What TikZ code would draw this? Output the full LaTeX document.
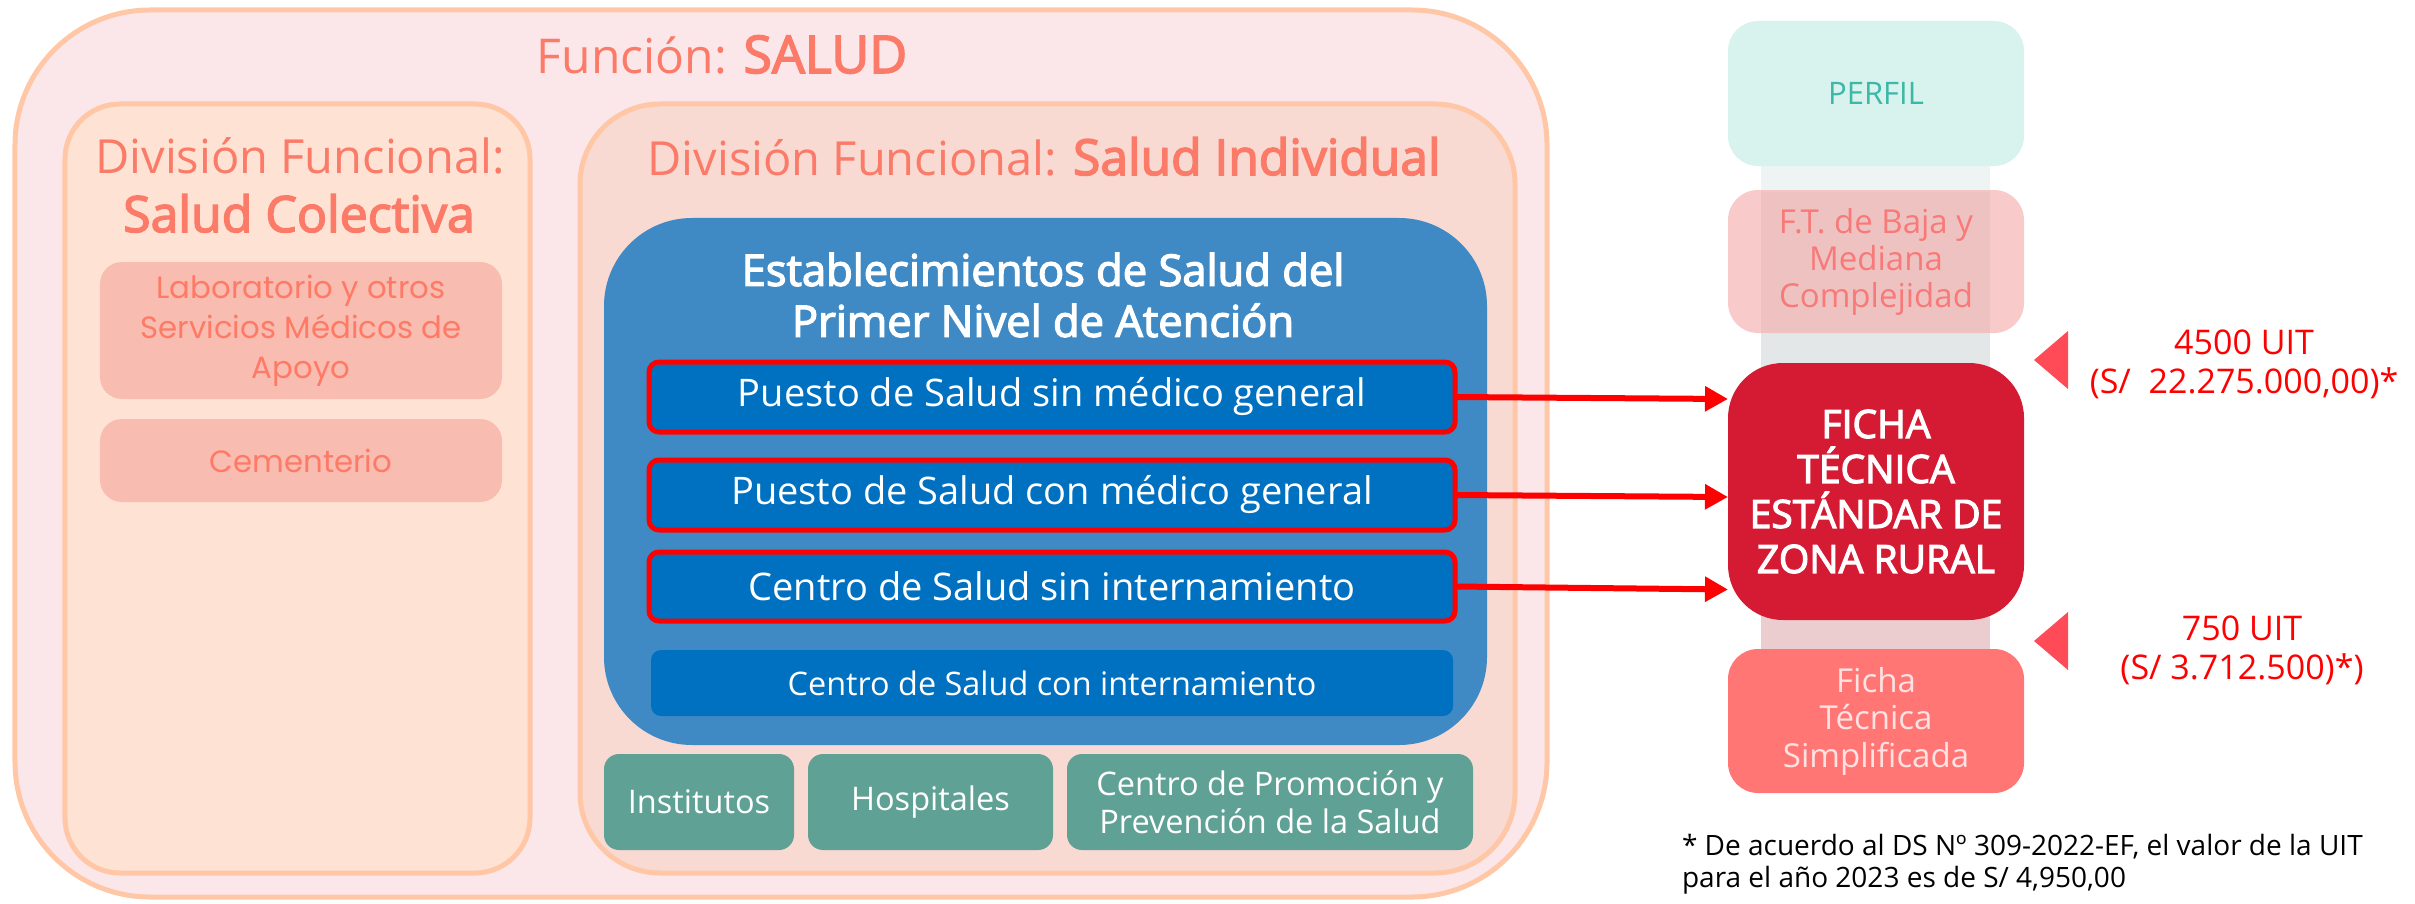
\documentclass[tikz,border=0pt]{standalone}
\usepackage{fontspec}
\setmainfont{Open Sans}
\newfontfamily\popfont{Poppins}
\newfontfamily\sbf{Open Sans}[FakeBold=3]
\usetikzlibrary{arrows.meta}
\definecolor{outerfill}{HTML}{FBE7E9}
\definecolor{peach}{HTML}{FFC7A5}
\definecolor{leftfill}{HTML}{FEE2D3}
\definecolor{rightfill}{HTML}{F8DAD2}
\definecolor{salmon}{HTML}{FB7A68}
\definecolor{labfill}{HTML}{F9BCB0}
\definecolor{labtext}{HTML}{FF7A66}
\definecolor{bluebig}{HTML}{3F8AC4}
\definecolor{bluebox}{HTML}{0070C0}
\definecolor{redline}{HTML}{FF0000}
\definecolor{greenbox}{HTML}{5FA195}
\definecolor{perfilfill}{HTML}{D8F2EE}
\definecolor{perfiltext}{HTML}{3CB8A7}
\definecolor{ftfill}{HTML}{F5B0B0}
\definecolor{fttext}{HTML}{F77A78}
\definecolor{fichafill}{HTML}{D51B33}
\definecolor{simpfill}{HTML}{FF7674}
\definecolor{simptext}{HTML}{FFE2E1}
\definecolor{trifill}{HTML}{FF4A57}
\definecolor{bandA}{HTML}{EEF4F3}
\definecolor{bandB}{HTML}{E4E7E7}
\definecolor{bandC}{HTML}{EBCDD0}
\newcommand{\fsz}[2]{\fontsize{#1bp}{#2bp}\selectfont}
\begin{document}
\begin{tikzpicture}[x=1bp,y=-1bp,
  box/.style={rectangle, inner sep=0pt, outer sep=0pt, align=center},
  divbox/.style={box, draw=peach, line width=5bp},
  estab/.style={box, fill=bluebox, rounded corners=10bp, minimum width=806bp, minimum height=70bp, text=white, font=\fsz{38}{44}},
  sel/.style={draw=redline, line width=5bp},
  green/.style={box, fill=greenbox, rounded corners=15bp, minimum height=96bp, text=white, font=\fsz{32.5}{38}},
  colbox/.style={box, rounded corners=30bp, minimum width=296bp},
  sidebox/.style={box, fill=labfill, rounded corners=22bp, minimum width=402bp, text=labtext, font=\popfont\fsz{30.8}{40}},
  arrowline/.style={draw=redline, line width=6bp, -{Triangle[length=23bp,width=24bp]}},
  title/.style={text=salmon, inner sep=0pt}
]
\useasboundingbox (0,0) rectangle (2415,903);

% outer function box
\node[divbox, fill=outerfill, rounded corners=135bp, minimum width=1532bp, minimum height=887bp] (outer) at (781,453.5) {};
\node[title, anchor=base, font=\fsz{48}{56}] (ftitle) at (722,73) {Función: {\sbf\fsz{52}{56}SALUD}};

% left division
\node[divbox, fill=leftfill, rounded corners=55bp, minimum width=465bp, minimum height=769bp] (leftdiv) at (297.5,488.5) {};
\node[title, anchor=base, font=\fsz{47}{56}] (lt1) at (300,173) {División Funcional:};
\node[title, anchor=base, font=\sbf\fsz{50}{56}] (lt2) at (299,232) {Salud Colectiva};
\node[sidebox, minimum height=137bp] (lab) at (301,330.5) {Laboratorio y otros\\Servicios Médicos de\\Apoyo};
\node[sidebox, minimum height=83bp] (cem) at (301,460.5) {Cementerio};

% right division
\node[divbox, fill=rightfill, rounded corners=80bp, minimum width=935bp, minimum height=769bp] (rightdiv) at (1047.5,488.5) {};
\node[title, anchor=base, font=\fsz{47}{56}] (rt) at (1044,175) {División Funcional: {\sbf\fsz{49.7}{56}Salud Individual}};

% blue block
\node[box, fill=bluebig, rounded corners=88bp, minimum width=883bp, minimum height=527bp] (blue) at (1045.5,481.5) {};
\node[box, text=white, font=\sbf\fsz{43.5}{51}] (bt) at (1043,295) {Establecimientos de Salud del\\Primer Nivel de Atención};
\node[estab, sel] (b1) at (1052,397) {Puesto de Salud sin médico general};
\node[estab, sel] (b2) at (1052,495) {Puesto de Salud con médico general};
\node[estab, sel, minimum height=69bp] (b3) at (1052,586.5) {Centro de Salud sin internamiento};
\node[estab, minimum width=802bp, minimum height=66bp, font=\fsz{32.4}{38}] (b4) at (1052,683) {Centro de Salud con internamiento};

% green boxes
\node[green, minimum width=190bp] (g1) at (699,802) {Institutos};
\node[green, minimum width=245bp] (g2) at (930.5,802) {Hospitales};
\node[green, minimum width=406bp] (g3) at (1270,802) {Centro de Promoción y\\Prevención de la Salud};

% right column band
\fill[bandB] (1761,160) rectangle (1990,655);
\fill[bandA] (1761,160) rectangle (1990,192);
\fill[bandC] (1761,615) rectangle (1990,655);

% right column boxes
\node[colbox, fill=perfilfill, minimum height=145bp, text=perfiltext, font=\fsz{31}{37}] (perfil) at (1876,93.5) {PERFIL};
\node[colbox, fill=ftfill, fill opacity=0.67, text opacity=1, minimum height=143bp, text=fttext, font=\fsz{33}{37}] (ft) at (1876,261.5) {F.T. de Baja y\\Mediana\\Complejidad};
\node[colbox, fill=fichafill, rounded corners=55bp, minimum height=257bp, text=white, font=\sbf\fsz{39}{45}] (ficha) at (1876,491.5) {FICHA\\TÉCNICA\\ESTÁNDAR DE\\ZONA RURAL};
\node[colbox, fill=simpfill, minimum height=144bp, text=simptext, font=\fsz{33}{37.5}] (simp) at (1876,721) {Ficha\\Técnica\\Simplificada};

% arrows
\draw[arrowline] (b1.east) -- ([yshift=-2bp]b1.east -| ficha.west);
\draw[arrowline] (b2.east) -- ([yshift=-2bp]b2.east -| ficha.west);
\draw[arrowline] (b3.east) -- ([yshift=-3bp]b3.east -| ficha.west);

% thresholds
\fill[trifill] (2034,360) -- (2068,331) -- (2068,389) -- cycle;
\fill[trifill] (2034,641) -- (2068,612) -- (2068,670) -- cycle;
\node[box, text=redline, font=\fsz{34}{39}] (uit1) at (2244,364) {4500 UIT\\(S/~~22.275.000,00)*};
\node[box, text=redline, font=\fsz{34}{39}] (uit2) at (2242,650) {750 UIT\\(S/ 3.712.500)*)};

% footnote
\node[box, anchor=west, align=left, text=black, font=\fsz{28}{32}] (note) at (1682,864) {* De acuerdo al DS Nº 309-2022-EF, el valor de la UIT\\para el año 2023 es de S/ 4,950,00};
\end{tikzpicture}
\end{document}
